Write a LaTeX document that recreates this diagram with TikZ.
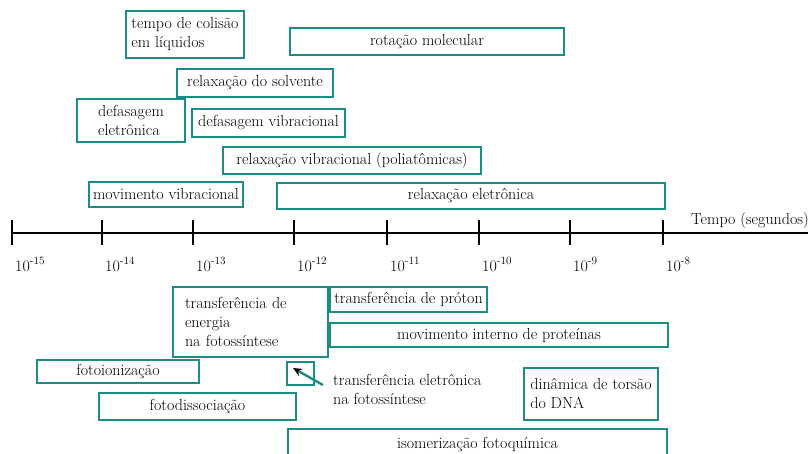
\documentclass[tikz,border=0pt]{standalone}
\usetikzlibrary{arrows.meta}
\definecolor{tealbox}{RGB}{28,140,135}
\begin{document}
\begin{tikzpicture}[x=1pt,y=-1pt,
  every node/.style={font=\fontsize{16}{19}\selectfont},
  box/.style={draw=tealbox,line width=2.6pt,inner sep=0pt,align=center},
  lbox/.style={draw=tealbox,line width=2.6pt,inner sep=0pt,align=left},
  axis/.style={line width=2.8pt,black},
  tick/.style={line width=2.8pt,black},
  ticklabel/.style={anchor=base west,inner sep=0pt}]
\useasboundingbox (0,0) rectangle (811,453);
% upper boxes
\node[lbox,minimum width=118pt,minimum height=47pt] (colisao) at (185,34.5) {tempo de colisão\\em líquidos};
\node[box,minimum width=274pt,minimum height=27pt] (rotacao) at (427,41.5) {rotação molecular};
\node[box,minimum width=156pt,minimum height=28pt] (solvente) at (255,83) {relaxação do solvente};
\node[lbox,minimum width=108pt,minimum height=43pt] (defel) at (131,120.5) {defasagem\\eletrônica};
\node[box,minimum width=153pt,minimum height=28pt] (defvib) at (268.5,123) {defasagem vibracional};
\node[box,minimum width=258pt,minimum height=27pt] (relvib) at (352,160.5) {relaxação vibracional (poliatômicas)};
\node[box,minimum width=154pt,minimum height=25pt] (movvib) at (166,194.5) {movimento vibracional};
\node[box,minimum width=388pt,minimum height=26pt] (relel) at (471,196) {relaxação eletrônica};
% axis
\coordinate (a0) at (12,233);
\coordinate (a1) at (808,233);
\draw[axis] (a0) -- (a1);
\foreach \x/\e [count=\i] in {12/-15,102/-14,193/-13,294/-12,387/-11,479/-10,570/-9,663/-8}{
  \coordinate (t\i) at (\x,233);
  \draw[tick] ([yshift=-12pt]t\i) -- ([yshift=13pt]t\i);
  \node[ticklabel] (l\i) at (\x+3,271) {10\textsuperscript{\e}};
}
\node[anchor=base east,inner sep=0pt] (tempo) at (809,224) {Tempo (segundos)};
% lower boxes
\node[lbox,inner xsep=12pt,text width=131pt,minimum height=70pt] (energia) at (250.5,322) {transferência de\\energia\\na fotossíntese};
\node[box,minimum width=157pt,minimum height=25pt] (proton) at (408.5,299.5) {transferência de próton};
\node[box,minimum width=338pt,minimum height=24pt] (proteinas) at (499,335) {movimento interno de proteínas};
\node[box,minimum width=162pt,minimum height=23pt] (fotoion) at (118,371.5) {fotoionização};
\node[box,minimum width=27pt,minimum height=23pt] (small) at (300.5,373.5) {};
\node[anchor=north west,inner sep=0pt,align=left] (eltext) at (333,374) {transferência eletrônica\\na fotossíntese};
\coordinate (arrstart) at (323,385);
\coordinate (arrtip) at (293,368);
\draw[tealbox,line width=2.4pt,-{Stealth[black,length=9pt,width=8pt]}] (arrstart) -- (arrtip);
\node[box,minimum width=197pt,minimum height=27pt] (fotodiss) at (197.5,406.5) {fotodissociação};
\node[lbox,minimum width=134pt,minimum height=52pt] (dna) at (591,394) {dinâmica de torsão\\do DNA};
\node[box,minimum width=379pt,minimum height=30pt] (isomer) at (477.5,444) {isomerização fotoquímica};
\end{tikzpicture}
\end{document}
